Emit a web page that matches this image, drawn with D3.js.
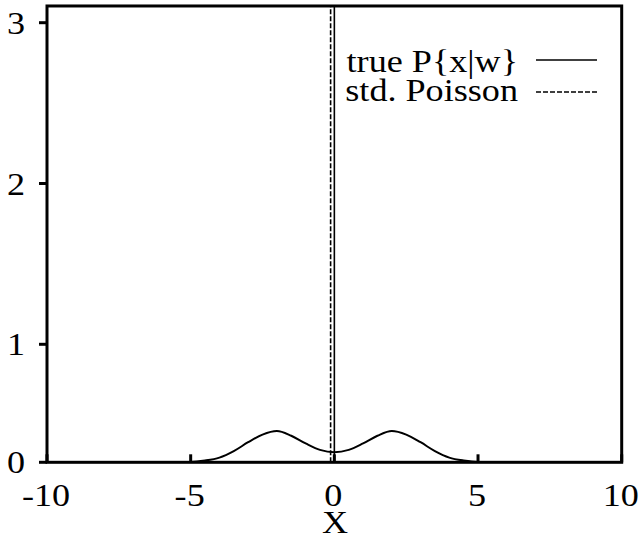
<!DOCTYPE html>
<html>
<head>
<meta charset="utf-8">
<script src="https://cdn.jsdelivr.net/npm/d3@7"></script>
<style>
  html, body { margin: 0; padding: 0; background: #fff; }
  svg text { font-family: "Liberation Serif", "Times New Roman", serif; font-size: 32px; fill: #000; }
</style>
</head>
<body>
<div id="chart"></div>
<script>
// values
const xTicks = [-10, -5, 0, 5, 10];
const yTicks = [0, 1, 2, 3];

// true P{x|w}: smooth bimodal part
const curveX = [-10, -5, -4.5, -4, -3.5, -3, -2.5, -2, -1.5, -1, -0.5, 0,
                0.5, 1, 1.5, 2, 2.5, 3, 3.5, 4, 4.5, 5, 10];
const curveY = [0, 0.003, 0.015, 0.04, 0.095, 0.17, 0.235, 0.265, 0.225, 0.16, 0.105, 0.085,
                0.105, 0.16, 0.225, 0.265, 0.235, 0.17, 0.095, 0.04, 0.015, 0.003, 0];

// spikes near x = 0 (both run off the top)
const seriesNames = ["true P{x|w}", "std. Poisson"];
const spikeX = [0.0, -0.13];
const spikeTop = [3.3, 3.3];

const W = 640, H = 542;
const stretch = 1.13;   // text looks wider than it is tall

const svg = d3.select('#chart').append('svg')
  .attr('width', W)
  .attr('height', H);

const x = d3.scaleLinear().domain([-10, 10]).range([47, 621.7]);
// bottom ("0") sits closer to "1" than the other steps
const y = d3.scaleLinear().domain([0, 1, 3]).range([462.3, 344.3, 22.7]);

const plotLeft = x(-10), plotRight = x(10), plotBottom = y(0), plotTop = y(3.104);

svg.append('clipPath').attr('id', 'plot-clip')
  .append('rect')
  .attr('x', plotLeft).attr('y', plotTop)
  .attr('width', plotRight - plotLeft).attr('height', plotBottom - plotTop);

const plot = svg.append('g').attr('clip-path', 'url(#plot-clip)');

const line = d3.line()
  .x((d, i) => x(curveX[i]))
  .y(d => y(d))
  .curve(d3.curveMonotoneX);

plot.append('path')
  .attr('d', line(curveY))
  .attr('fill', 'none')
  .attr('stroke', '#000')
  .attr('stroke-width', 2);

const dashes = [null, '5,2'];
spikeX.forEach((sx, i) => {
  plot.append('line')
    .attr('x1', x(sx)).attr('x2', x(sx))
    .attr('y1', y(0)).attr('y2', y(spikeTop[i]))
    .attr('stroke', '#000')
    .attr('stroke-width', 1.6)
    .attr('stroke-dasharray', dashes[i]);
});

// frame
svg.append('rect')
  .attr('x', plotLeft).attr('y', plotTop)
  .attr('width', plotRight - plotLeft).attr('height', plotBottom - plotTop)
  .attr('fill', 'none')
  .attr('stroke', '#000')
  .attr('stroke-width', 3);

// x ticks point inward
const xAxis = svg.append('g');
xTicks.forEach(t => {
  xAxis.append('line')
    .attr('x1', x(t)).attr('x2', x(t))
    .attr('y1', plotBottom).attr('y2', plotBottom - 8)
    .attr('stroke', '#000').attr('stroke-width', 3);
  xAxis.append('text')
    .attr('transform', `translate(${x(t) - 1},${plotBottom + 44}) scale(${stretch},1)`)
    .attr('text-anchor', 'middle')
    .text(t);
});

// y ticks point outward
const yAxis = svg.append('g');
yTicks.forEach(t => {
  yAxis.append('line')
    .attr('x1', plotLeft).attr('x2', plotLeft - 8)
    .attr('y1', y(t)).attr('y2', y(t))
    .attr('stroke', '#000').attr('stroke-width', 3);
  yAxis.append('text')
    .attr('transform', `translate(25,${y(t) + 11}) scale(${stretch},1)`)
    .attr('text-anchor', 'end')
    .text(t);
});

svg.append('text')
  .attr('transform', `translate(335,533) scale(${stretch},1)`)
  .attr('text-anchor', 'middle')
  .text('X');

// legend
const legend = svg.append('g');
const legendBase = [72, 101];
const sampleY = [60, 92];
seriesNames.forEach((name, i) => {
  legend.append('text')
    .attr('transform', `translate(518,${legendBase[i]}) scale(${stretch},1)`)
    .attr('text-anchor', 'end')
    .text(name);
  legend.append('line')
    .attr('x1', 536).attr('x2', 597)
    .attr('y1', sampleY[i]).attr('y2', sampleY[i])
    .attr('stroke', '#000')
    .attr('stroke-width', 1.6)
    .attr('stroke-dasharray', dashes[i]);
});
</script>
</body>
</html>
